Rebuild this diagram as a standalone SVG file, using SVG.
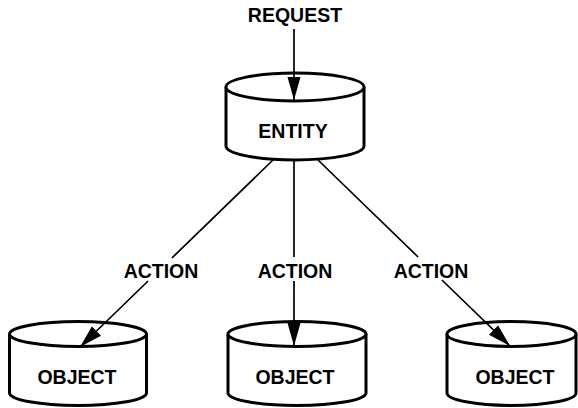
<svg xmlns="http://www.w3.org/2000/svg" width="578" height="408" viewBox="0 0 578 408">
  <style>
    .cyl { fill: #ffffff; stroke: #000000; stroke-width: 3; }
    .wire { fill: none; stroke: #000000; stroke-width: 1.7; }
    .lbl { font-family: "Liberation Sans", Arial, sans-serif; font-weight: bold; font-size: 19.5px; fill: #000000; text-anchor: middle; }
  </style>
  <defs>
    <marker id="head" markerUnits="userSpaceOnUse" markerWidth="24" markerHeight="15" viewBox="0 0 24 15" refX="23" refY="7.5" orient="auto">
      <path d="M0,1 L23,7.5 L0,14 Z" fill="#000000"/>
    </marker>
  </defs>

  <rect width="578" height="408" fill="#ffffff"/>

  <!-- request label -->
  <text class="lbl" x="295" y="22">REQUEST</text>

  <!-- entity store -->
  <g id="entity">
    <path class="cyl" d="M226,87 L226,146 A69,14 0 0 0 364,146 L364,87"/>
    <ellipse class="cyl" cx="295" cy="87" rx="69" ry="14"/>
    <text class="lbl" x="293" y="138">ENTITY</text>
  </g>

  <!-- object stores -->
  <g id="object-left">
    <path class="cyl" d="M9.5,334 L9.5,393 A68.5,12.5 0 0 0 146.5,393 L146.5,334"/>
    <ellipse class="cyl" cx="78" cy="334" rx="68.5" ry="12.5"/>
    <text class="lbl" x="77" y="384">OBJECT</text>
  </g>
  <g id="object-middle">
    <path class="cyl" d="M228,334 L228,393 A69,12.5 0 0 0 366,393 L366,334"/>
    <ellipse class="cyl" cx="297" cy="334" rx="69" ry="12.5"/>
    <text class="lbl" x="295" y="384">OBJECT</text>
  </g>
  <g id="object-right">
    <path class="cyl" d="M447,334 L447,393 A64.5,12.5 0 0 0 576,393 L576,334"/>
    <ellipse class="cyl" cx="511.5" cy="334" rx="64.5" ry="12.5"/>
    <text class="lbl" x="515" y="384">OBJECT</text>
  </g>

  <!-- connectors -->
  <g id="connectors">
    <path class="wire" d="M294,29 L294,100" marker-end="url(#head)"/>
    <path class="wire" d="M273,160 L171.9,258 M148.1,281 L80,347" marker-end="url(#head)"/>
    <path class="wire" d="M294,160 L294,257 M294,281 L294,346" marker-end="url(#head)"/>
    <path class="wire" d="M318,160 L418.1,257 M441.9,280 L510,346" marker-end="url(#head)"/>
  </g>

  <!-- action labels -->
  <text class="lbl" x="161" y="278">ACTION</text>
  <text class="lbl" x="295" y="278">ACTION</text>
  <text class="lbl" x="431" y="278">ACTION</text>
</svg>
